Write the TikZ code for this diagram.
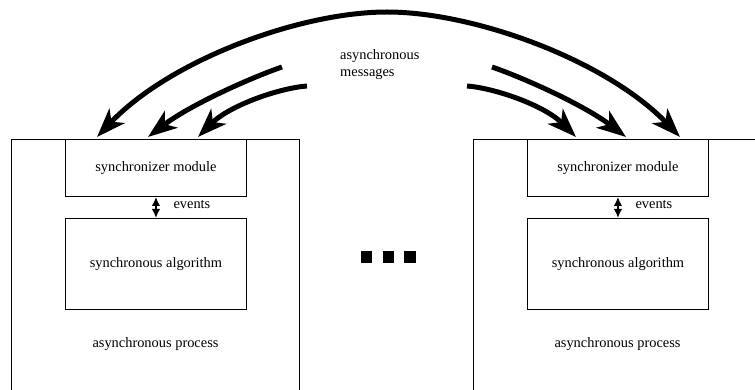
\documentclass[tikz,border=0pt]{standalone}
\usepackage{fontspec}
\setmainfont{Liberation Serif}
\newfontfamily\figserif{Liberation Serif}
\usetikzlibrary{arrows.meta}
\begin{document}
\begin{tikzpicture}[x=1pt,y=-1pt,
  every node/.style={font=\figserif\fontsize{14.4}{17.3}\selectfont},
  boxline/.style={line width=0.9pt},
  modbox/.style={draw, boxline, anchor=north west, inner sep=0pt, minimum width=181pt},
  msgarrow/.style={line width=5pt, -{Stealth[length=29pt,width=21pt,inset=8pt]}},
  evarrow/.style={line width=1.7pt, {Latex[length=9pt,width=8.5pt]}-{Latex[length=9pt,width=8.5pt]}},
  dotsq/.style={fill=black, draw=none, inner sep=0pt, minimum width=11.5pt, minimum height=12.5pt}
]
\useasboundingbox (0,0) rectangle (755,390);

% left process
\coordinate (Lbl) at (11,390);
\coordinate (Ltl) at (11,139);
\coordinate (Ltr) at (299,139);
\coordinate (Lbr) at (299,390);
\draw[boxline] (Lbl) -- (Ltl) -- (Ltr) -- (Lbr);
\node[modbox, minimum height=57pt] (syncL) at (65,139) {synchronizer module};
\node[modbox, minimum height=91pt] (algL) at (65,218) {synchronous algorithm};
\draw[evarrow] (syncL.south) -- (algL.north);
\node[anchor=base west] (evL) at (170,209) {events};
\node[anchor=base] (procL) at (155.5,347.5) {asynchronous process};

% right process
\coordinate (Rbl) at (473,390);
\coordinate (Rtl) at (473,139);
\coordinate (Rtr) at (755,139);
\draw[boxline] (Rbl) -- (Rtl) -- (Rtr);
\node[modbox, minimum height=57pt] (syncR) at (527,139) {synchronizer module};
\node[modbox, minimum height=91pt] (algR) at (527,218) {synchronous algorithm};
\draw[evarrow] (syncR.south) -- (algR.north);
\node[anchor=base west] (evR) at (632,209) {events};
\node[anchor=base] (procR) at (617.5,347.5) {asynchronous process};

% dots
\node[dotsq] (d1) at (366.5,257) {};
\node[dotsq] (d2) at (388.5,257) {};
\node[dotsq] (d3) at (410.2,257) {};

% messages label (base = baseline of last line)
\node[anchor=base west, align=left, inner sep=0pt] (msg) at (340,77) {asynchronous\\messages};

% message arrows
\coordinate (top) at (387,12);
\coordinate (mL) at (282,67);
\coordinate (iL) at (307,86);
\coordinate (mR) at (492,67);
\coordinate (iR) at (467,86);
\coordinate (tL1) at (97,137);
\coordinate (tL2) at (148,137);
\coordinate (tL3) at (198,137);
\coordinate (tR1) at (680,137);
\coordinate (tR2) at (626,137);
\coordinate (tR3) at (576,137);

\draw[msgarrow] (top) .. controls (300,12) and (170,60) .. (tL1);
\draw[msgarrow] (mL) .. controls (250,78) and (190,105) .. (tL2);
\draw[msgarrow] (iL) .. controls (280,88) and (230,105) .. (tL3);
\draw[msgarrow] (top) .. controls (474,12) and (606,60) .. (tR1);
\draw[msgarrow] (mR) .. controls (524,78) and (584,105) .. (tR2);
\draw[msgarrow] (iR) .. controls (494,88) and (544,105) .. (tR3);
\end{tikzpicture}
\end{document}
